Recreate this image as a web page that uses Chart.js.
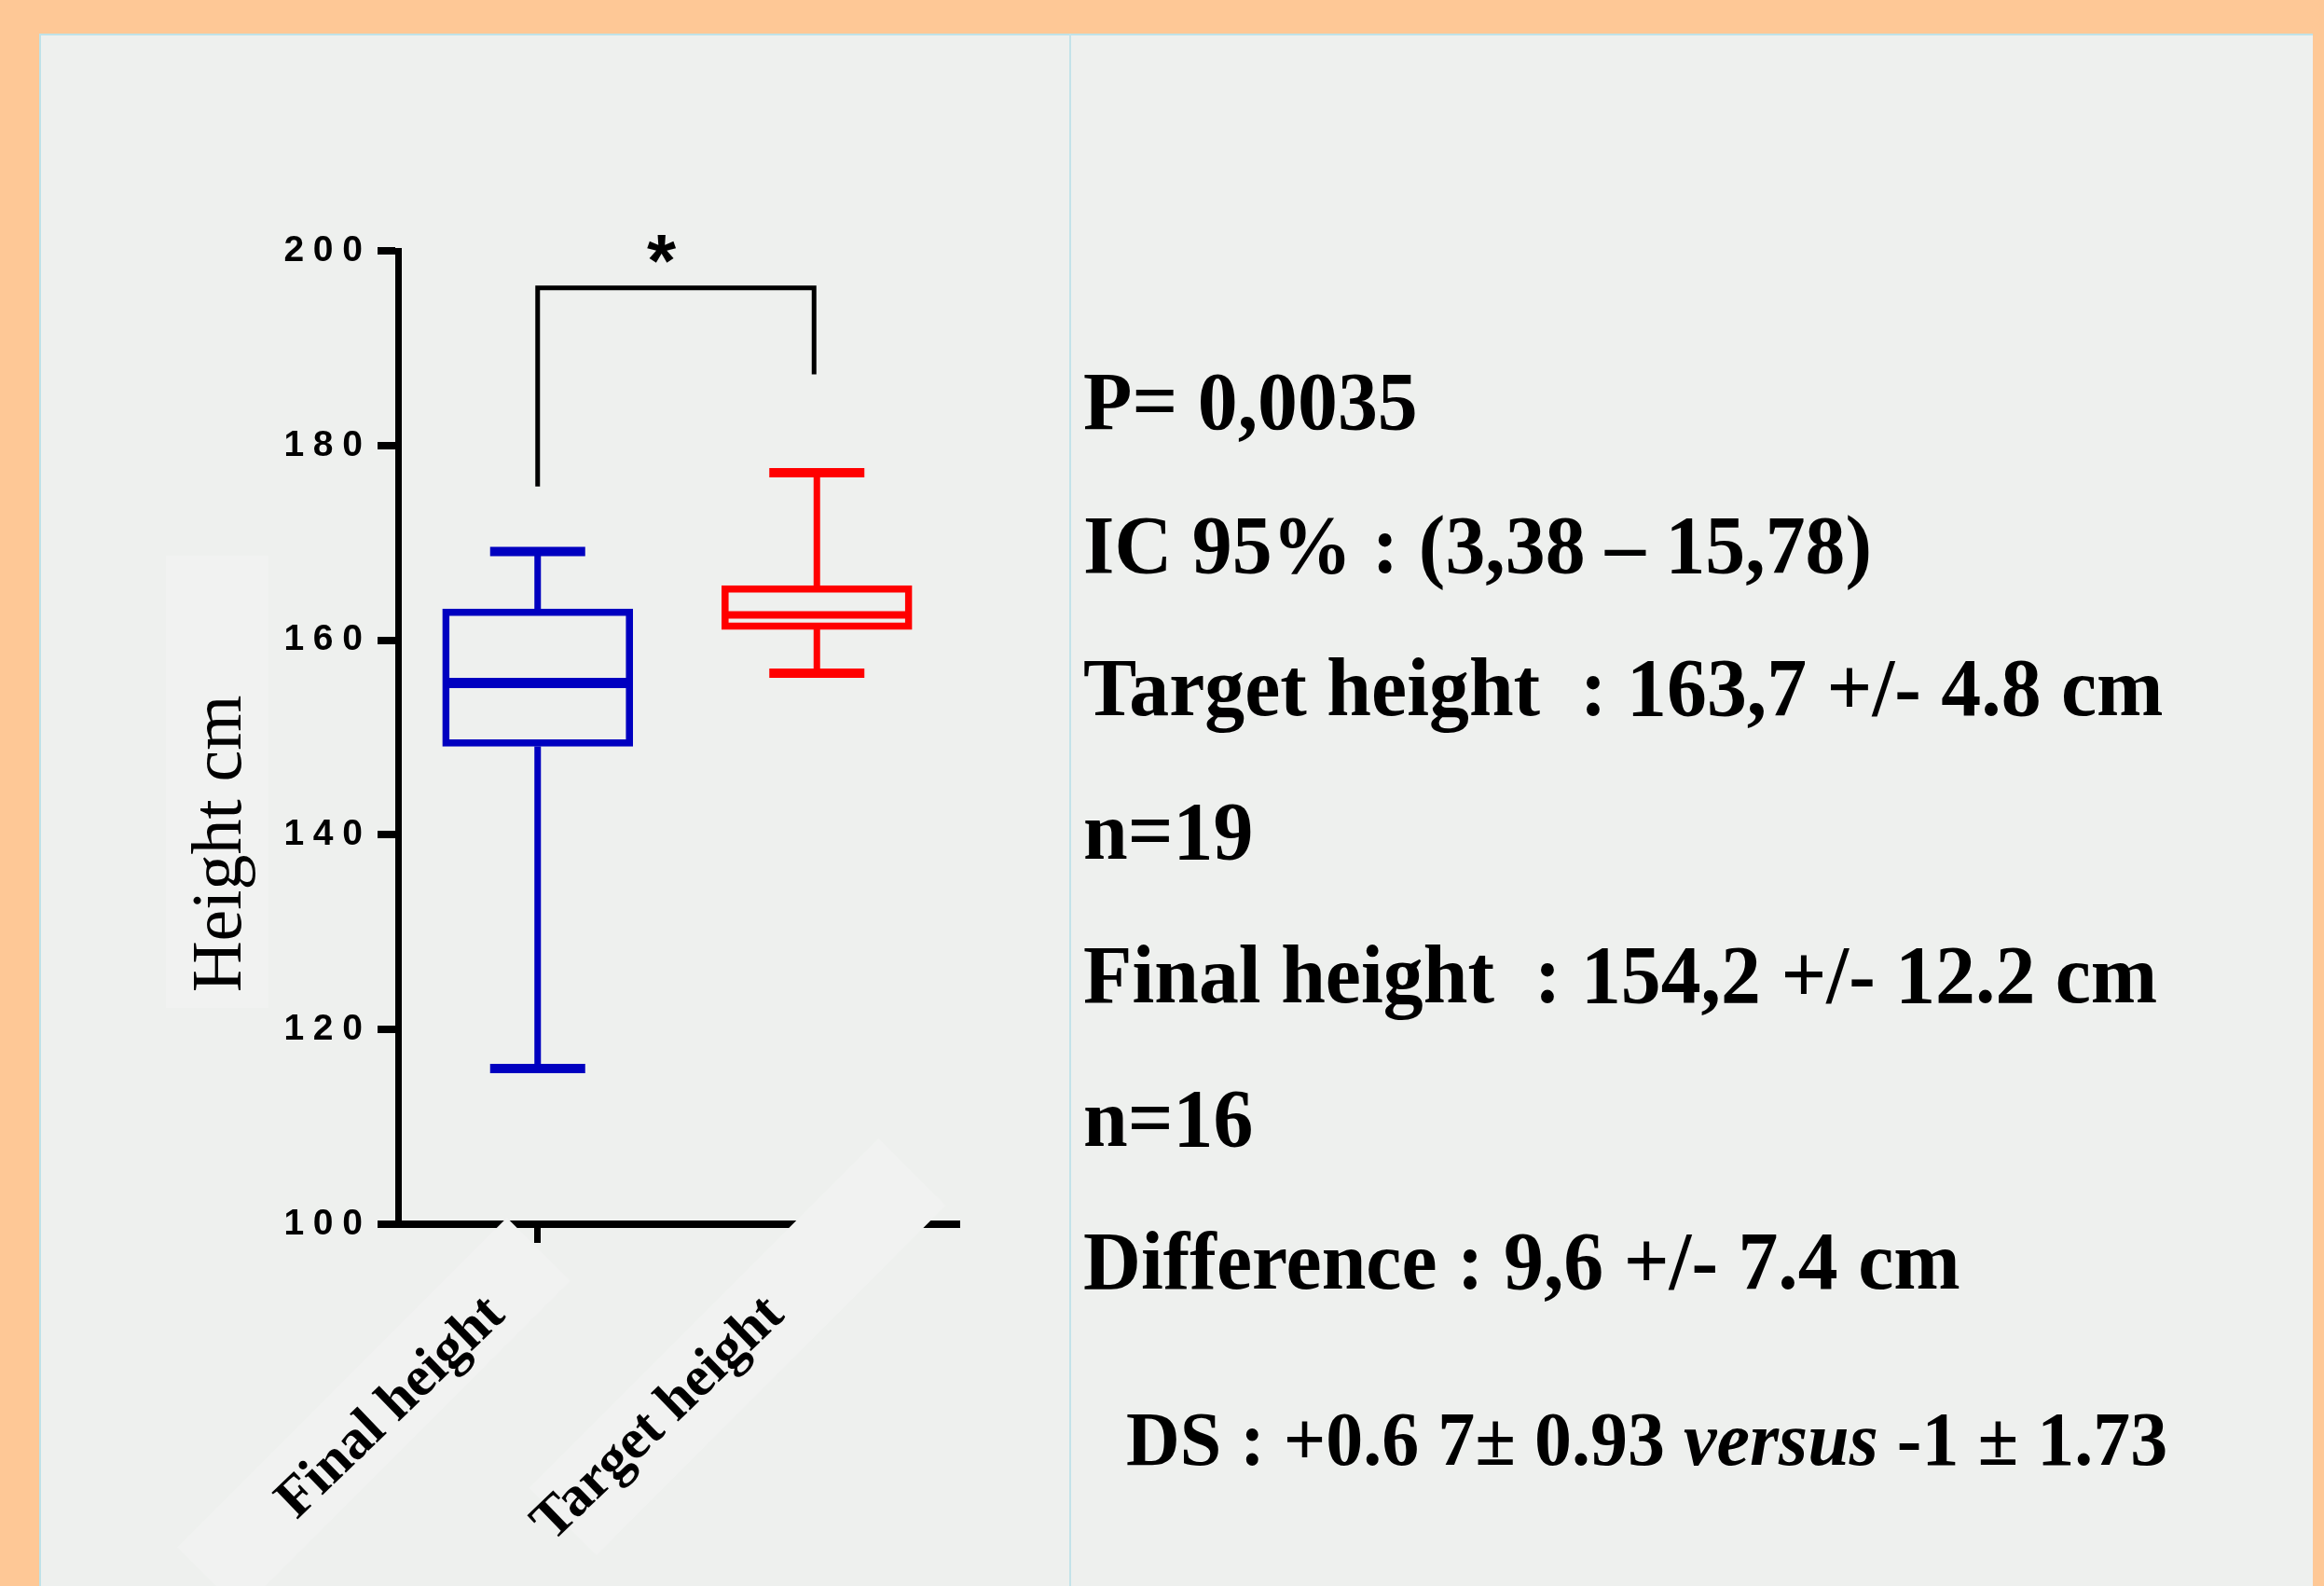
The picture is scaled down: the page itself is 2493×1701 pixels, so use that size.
<!DOCTYPE html>
<html>
<head>
<meta charset="utf-8">
<script src="https://cdn.jsdelivr.net/npm/chart.js@4.4.1/dist/chart.umd.min.js"></script>
<style>
  html, body { margin: 0; padding: 0; }
  body { width: 2493px; height: 1701px; background: #fec896; position: relative; overflow: hidden; }
  #panel { position: absolute; left: 42px; top: 36px; width: 2439px; height: 1680px; background: #eef0ee;
           border-top: 2px solid #bfe2e8; border-left: 2px solid #bfe2e8; box-sizing: border-box; }
  #divider { position: absolute; left: 1147px; top: 36px; width: 2px; height: 1680px; background: #c3e3e9; }
  #chartBox { position: absolute; left: 0; top: 0; }
  .stats { position: absolute; font-family: 'Liberation Serif', 'Times New Roman', serif; font-weight: bold;
           color: #000; white-space: pre; transform-origin: 0 0; }
  #stats { left: 1162px; top: 354px; font-size: 88px; line-height: 153.7px; transform: scaleX(0.975); }
  #ds { left: 1208px; top: 1494px; font-size: 82px; line-height: 100px; transform: scaleX(0.975); }
</style>
</head>
<body>
<div id="panel"></div>
<div id="divider"></div>
<div id="chartBox"><canvas id="myChart" width="1148" height="1701"></canvas></div>
<div id="stats" class="stats"></div>
<div id="ds" class="stats">DS : +0.6 7± 0.93 <i>versus</i> -1 ± 1.73</div>
<script>
const categories = ['Final height', 'Target height'];
const whiskerLow = [116.0, 156.6];
const quartile1 = [149.1, 161.1];
const medians = [155.6, 162.6];
const quartile3 = [163.2, 165.6];
const whiskerHigh = [169.1, 177.2];
const boxColors = ['#0000c0', '#ff0000'];
const medianWidths = [11, 8];
const yTicks = [100, 120, 140, 160, 180, 200];

// significance bracket (values on the height axis)
const bracketLeftFrom = 175.8;
const bracketTop = 196.2;
const bracketRightTo = 187.3;

const statLines = [
    'P= 0,0035',
    'IC 95% : (3,38 \u2013 15,78)',
    'Target height  : 163,7 +/- 4.8 cm',
    'n=19',
    'Final height  : 154,2 +/- 12.2 cm',
    'n=16',
    'Difference : 9,6 +/- 7.4 cm',
];
document.getElementById('stats').textContent = statLines.join('\n');

const paleBox = '#f1f2f1';

const boxExtras = {
    id: 'boxExtras',
    beforeDatasetsDraw(chart) {
        const ctx = chart.ctx;
        // pale box behind the y title
        ctx.save();
        ctx.fillStyle = paleBox;
        ctx.fillRect(178, 596, 110, 485);
        ctx.fillStyle = '#000';
        ctx.font = '76px "Liberation Serif", "Times New Roman", serif';
        ctx.textAlign = 'center';
        ctx.textBaseline = 'middle';
        ctx.translate(238, 905);
        ctx.rotate(-Math.PI / 2);
        ctx.fillText('Height cm', 0, 0);
        ctx.restore();
    },
    afterDatasetsDraw(chart) {
        const { ctx, scales: { x, y } } = chart;
        ctx.save();

        // whiskers, caps and medians
        categories.forEach((c, i) => {
            const cx = x.getPixelForValue(i);
            ctx.strokeStyle = boxColors[i];
            ctx.lineCap = 'butt';
            ctx.lineWidth = 7;
            ctx.beginPath();
            ctx.moveTo(cx, y.getPixelForValue(quartile3[i]));
            ctx.lineTo(cx, y.getPixelForValue(whiskerHigh[i]));
            ctx.moveTo(cx, y.getPixelForValue(quartile1[i]));
            ctx.lineTo(cx, y.getPixelForValue(whiskerLow[i]));
            ctx.stroke();

            ctx.lineWidth = 10;
            ctx.beginPath();
            [whiskerHigh[i], whiskerLow[i]].forEach(v => {
                const py = y.getPixelForValue(v);
                ctx.moveTo(cx - 51, py);
                ctx.lineTo(cx + 51, py);
            });
            ctx.stroke();

            ctx.lineWidth = medianWidths[i];
            ctx.beginPath();
            const my = y.getPixelForValue(medians[i]);
            ctx.moveTo(cx - 99, my);
            ctx.lineTo(cx + 99, my);
            ctx.stroke();
        });

        // significance bracket
        const xl = x.getPixelForValue(0);
        const xr = x.getPixelForValue(1);
        const yt = y.getPixelForValue(bracketTop);
        ctx.strokeStyle = '#000';
        ctx.lineWidth = 5;
        ctx.lineJoin = 'miter';
        ctx.beginPath();
        ctx.moveTo(xl, y.getPixelForValue(bracketLeftFrom));
        ctx.lineTo(xl, yt);
        ctx.lineTo(xr - 3, yt);
        ctx.lineTo(xr - 3, y.getPixelForValue(bracketRightTo));
        ctx.stroke();
        ctx.fillStyle = '#000';
        ctx.font = 'bold 80px "Liberation Sans", Arial, sans-serif';
        ctx.textAlign = 'center';
        ctx.textBaseline = 'alphabetic';
        ctx.fillText('*', (xl + xr) / 2 - 17, yt - 2);

        // pale text boxes behind the category labels (they hide part of the axis)
        const boxes = [{ dx: -33, dy: -7, s: 96, l: 500 }, { dx: 66, dy: -92, s: 102, l: 530 }];
        const k = Math.SQRT1_2;
        ctx.fillStyle = paleBox;
        boxes.forEach((b, i) => {
            const px = x.getPixelForValue(i) + b.dx;
            const py = x.top + b.dy;
            ctx.beginPath();
            ctx.moveTo(px, py);
            ctx.lineTo(px + b.s * k, py + b.s * k);
            ctx.lineTo(px + b.s * k - b.l * k, py + b.s * k + b.l * k);
            ctx.lineTo(px - b.l * k, py + b.l * k);
            ctx.closePath();
            ctx.fill();
        });
        ctx.restore();
    }
};

let myChart;
function renderChart() {
    const ctx = document.getElementById('myChart').getContext('2d');
    myChart = new Chart(ctx, {
        type: 'bar',
        data: {
            labels: categories,
            datasets: [{
                label: 'Height',
                data: categories.map((c, i) => [quartile1[i], quartile3[i]]),
                backgroundColor: 'rgba(0,0,0,0)',
                borderColor: boxColors,
                borderWidth: 7,
                borderSkipped: false,
                barThickness: 204,
            }],
        },
        options: {
            responsive: false,
            animation: false,
            layout: { padding: { left: 0, top: 269, right: 122, bottom: 0 } },
            plugins: { legend: { display: false }, tooltip: { enabled: false } },
            scales: {
                x: {
                    offset: true,
                    afterFit: s => { s.height = 388; },
                    border: { display: true, color: '#000', width: 8 },
                    grid: { offset: false, drawOnChartArea: false, color: '#000', lineWidth: 7, tickLength: 20 },
                    ticks: {
                        z: 1,
                        color: '#000',
                        autoSkip: false,
                        minRotation: 44,
                        maxRotation: 44,
                        padding: 42,
                        labelOffset: -44,
                        font: { family: "'Liberation Serif', 'Times New Roman', serif", size: 61, weight: 'bold' },
                    },
                },
                y: {
                    min: yTicks[0],
                    max: yTicks[yTicks.length - 1],
                    afterFit: s => { s.width = 427; },
                    afterBuildTicks: s => { s.ticks = yTicks.map(v => ({ value: v })); },
                    border: { display: true, color: '#000', width: 7 },
                    grid: { drawOnChartArea: false, color: '#000', lineWidth: 8, tickLength: 22 },
                    ticks: {
                        color: '#000',
                        padding: 16,
                        font: { family: "'Liberation Sans', Arial, sans-serif", size: 39, weight: 'bold' },
                        callback: v => String(v).split('').join('\u2005'),
                    },
                },
            },
        },
        plugins: [boxExtras],
    });
}

document.addEventListener('DOMContentLoaded', function () {
    renderChart();
});
</script>
</body>
</html>
